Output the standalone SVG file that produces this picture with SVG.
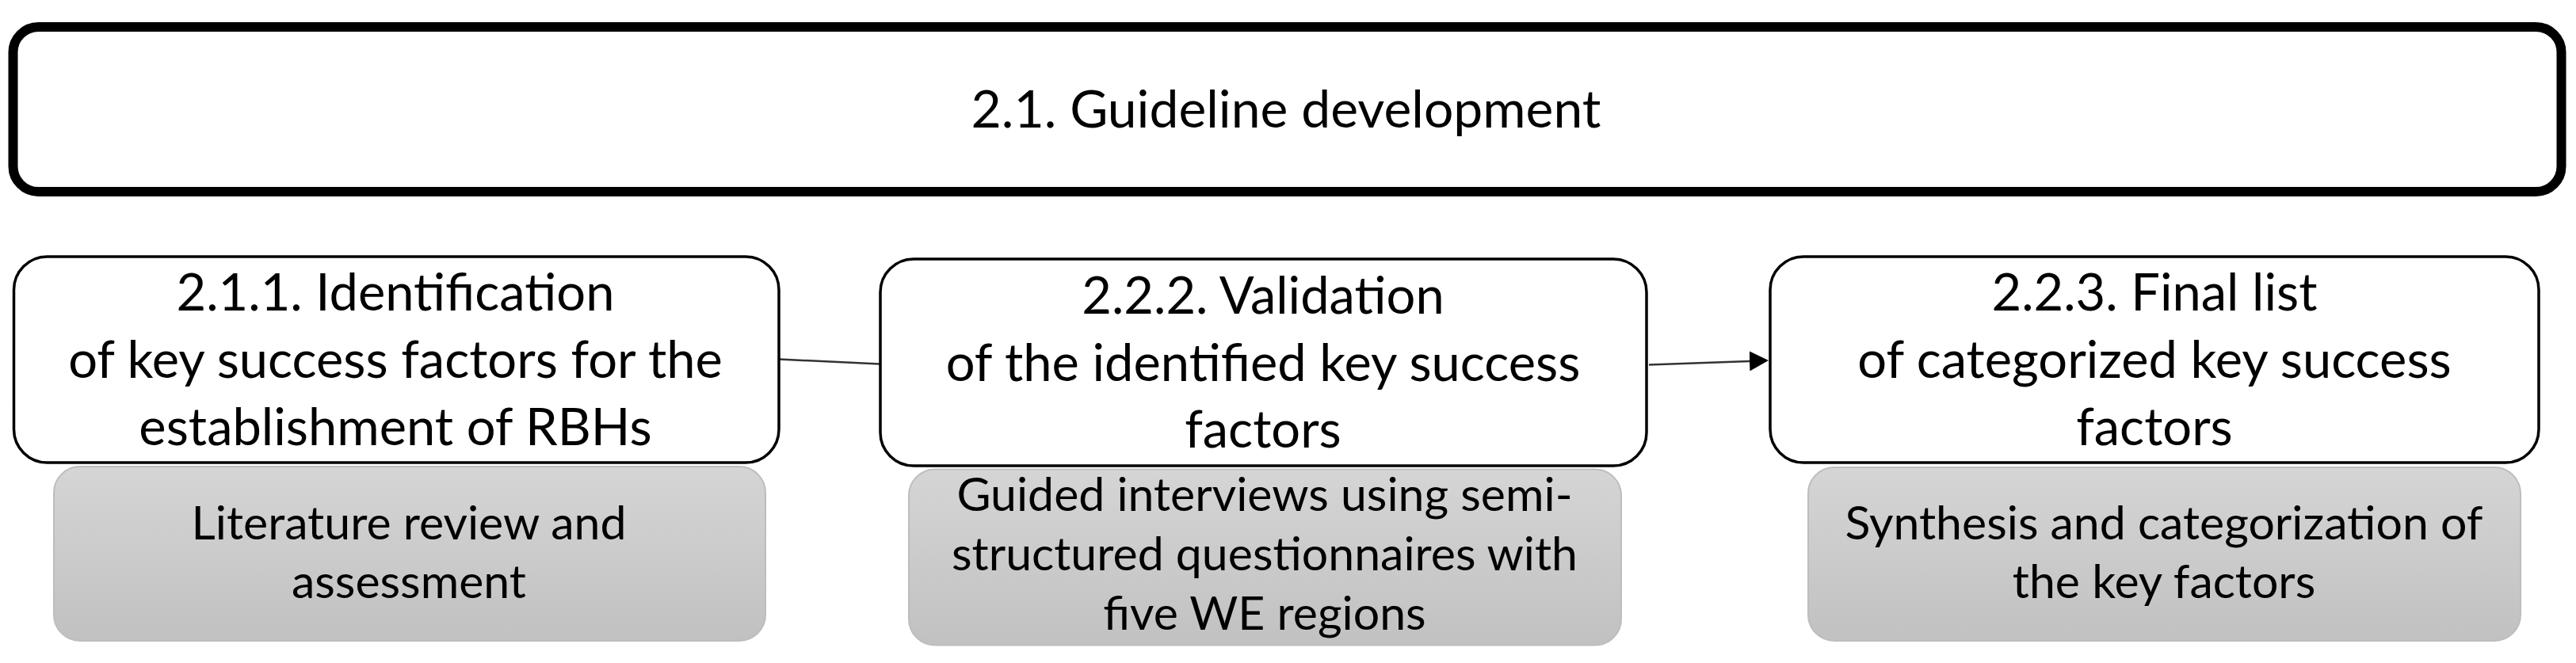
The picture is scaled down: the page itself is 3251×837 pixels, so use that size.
<svg xmlns="http://www.w3.org/2000/svg" width="3251" height="837" viewBox="0 0 3251 837">
<style>
text{font-family:Lato,"Liberation Sans","DejaVu Sans",sans-serif;fill:#000;text-anchor:middle}
.title{font-size:66px}
.step{font-size:65px}
.note{font-size:59px}
.main{fill:#fff;stroke:#000;stroke-width:12}
.box{fill:#fff;stroke:#000;stroke-width:3.5}
.gray{fill:url(#g);stroke:#bdbdbd;stroke-width:2}
.conn{stroke:#333;stroke-width:2.5;fill:none}
</style>
<defs>
<linearGradient id="g" x1="0" y1="0" x2="0" y2="1">
<stop offset="0" stop-color="#d5d5d5"/>
<stop offset="1" stop-color="#c1c1c1"/>
</linearGradient>
<marker id="arr" viewBox="0 0 24 25" refX="0" refY="12.5" markerWidth="24" markerHeight="25" markerUnits="userSpaceOnUse" orient="auto">
<path d="M0,0 L24,12.5 L0,25 z" fill="#000"/>
</marker>
</defs>
<rect width="3251" height="837" fill="#fff"/>
<g id="main">
<rect class="main" x="16.5" y="34" width="3216" height="208" rx="32"/>
<text class="title" x="1623" y="161">2.1. Guideline development</text>
</g>
<g id="connectors">
<line class="conn" x1="983" y1="453.5" x2="1110" y2="459.5"/>
<line class="conn" x1="2081" y1="460.5" x2="2208" y2="455.9" marker-end="url(#arr)"/>
</g>
<g id="step1">
<rect class="box" x="17.5" y="324" width="965.5" height="260" rx="42"/>
<text class="step" x="499" y="392">2.1.1. Identification</text>
<text class="step" x="499" y="477">of key success factors for the</text>
<text class="step" x="499" y="562">establishment of RBHs</text>
</g>
<g id="step2">
<rect class="box" x="1111" y="327" width="967" height="261" rx="42"/>
<text class="step" x="1594" y="396">2.2.2. Validation</text>
<text class="step" x="1594" y="481">of the identified key success</text>
<text class="step" x="1594" y="565">factors</text>
</g>
<g id="step3">
<rect class="box" x="2234" y="324" width="970" height="260" rx="42"/>
<text class="step" x="2719" y="392">2.2.3. Final list</text>
<text class="step" x="2719" y="477">of categorized key success</text>
<text class="step" x="2719" y="562">factors</text>
</g>
<g id="method1">
<rect class="gray" x="68" y="589" width="898" height="220" rx="33"/>
<text class="note" x="516" y="681">Literature review and</text>
<text class="note" x="516" y="755">assessment</text>
</g>
<g id="method2">
<rect class="gray" x="1147" y="592.5" width="899" height="222" rx="33"/>
<text class="note" x="1596" y="645">Guided interviews using semi-</text>
<text class="note" x="1596" y="720">structured questionnaires with</text>
<text class="note" x="1596" y="795">five WE regions</text>
</g>
<g id="method3">
<rect class="gray" x="2282" y="590" width="899" height="219" rx="33"/>
<text class="note" x="2731" y="681">Synthesis and categorization of</text>
<text class="note" x="2731" y="755">the key factors</text>
</g>
</svg>
